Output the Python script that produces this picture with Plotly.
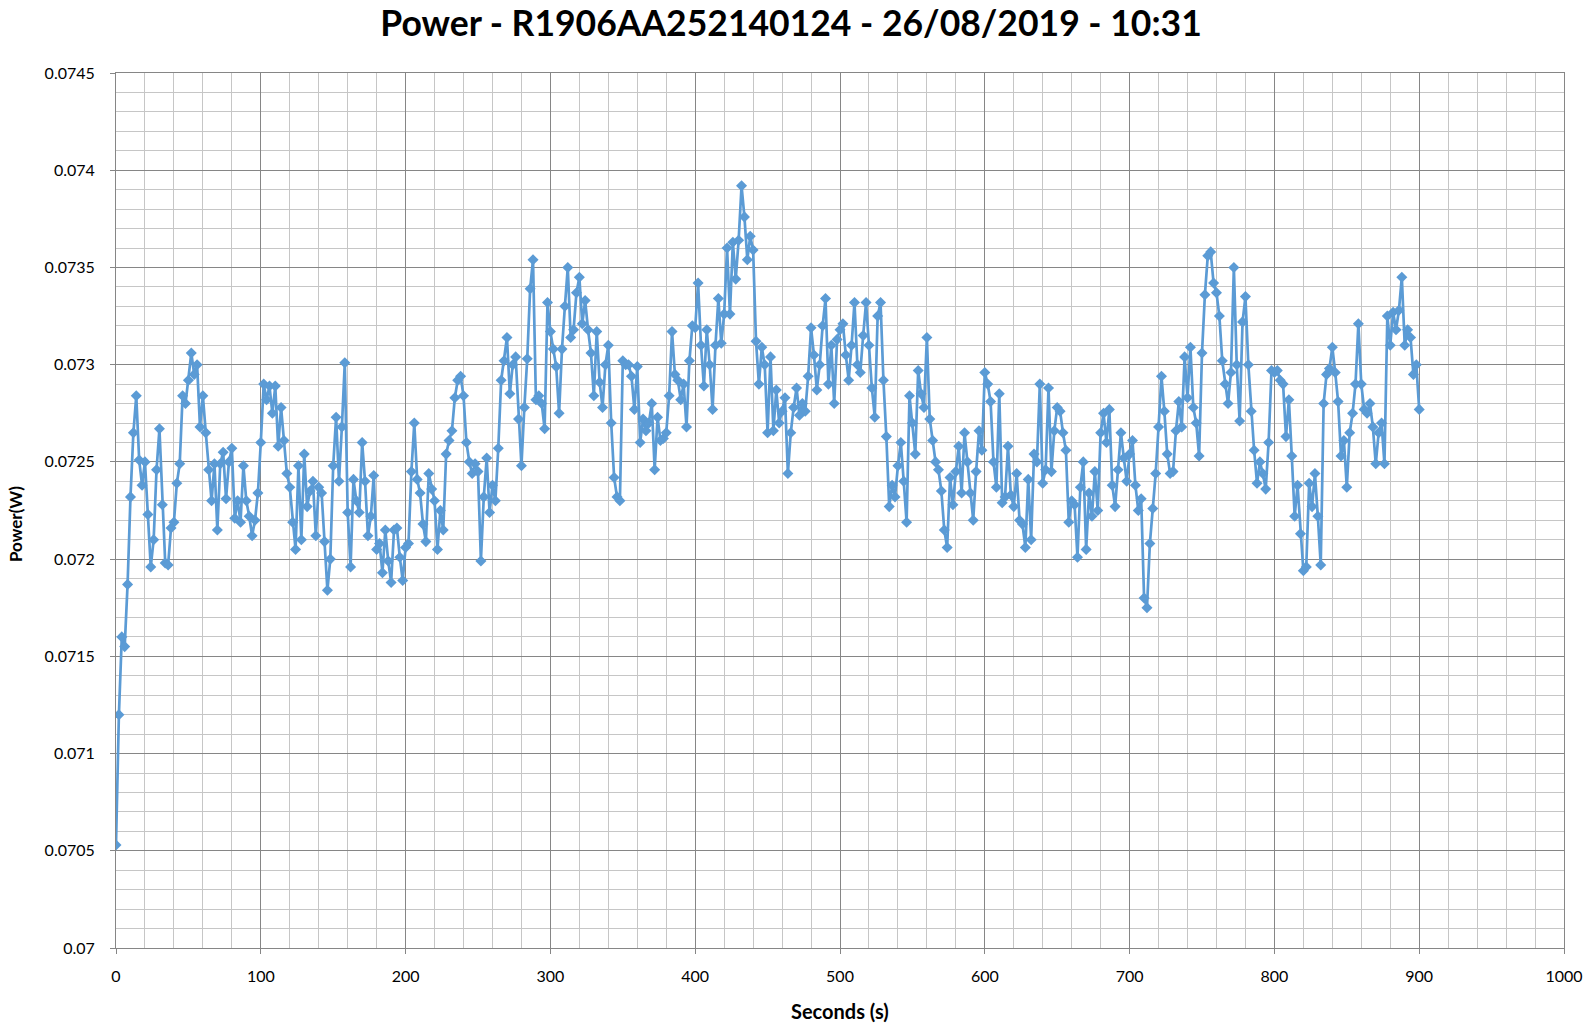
import plotly.graph_objects as go

# ---- data (2 s sampling) ----
seconds = list(range(0, 901, 2))

power_000 = [
    0.07053, 0.07120, 0.07160, 0.07155, 0.07187, 0.07232, 0.07265, 0.07284, 0.07251, 0.07238,
    0.07250, 0.07223, 0.07196, 0.07210, 0.07246, 0.07267, 0.07228, 0.07198, 0.07197, 0.07216,
    0.07219, 0.07239, 0.07249, 0.07284, 0.07280, 0.07292, 0.07306, 0.07295, 0.07300, 0.07268,
    0.07284, 0.07265, 0.07246, 0.07230, 0.07249, 0.07215, 0.07249, 0.07255, 0.07231, 0.07250,
    0.07257, 0.07221, 0.07230, 0.07219, 0.07248, 0.07230, 0.07222, 0.07212, 0.07220, 0.07234,
]
power_100 = [
    0.07260, 0.07290, 0.07282, 0.07289, 0.07275, 0.07289, 0.07258, 0.07278, 0.07261, 0.07244,
    0.07237, 0.07219, 0.07205, 0.07248, 0.07210, 0.07254, 0.07227, 0.07235, 0.07240, 0.07212,
    0.07237, 0.07234, 0.07209, 0.07184, 0.07200, 0.07248, 0.07273, 0.07240, 0.07268, 0.07301,
    0.07224, 0.07196, 0.07241, 0.07230, 0.07224, 0.07260, 0.07240, 0.07212, 0.07222, 0.07243,
    0.07205, 0.07208, 0.07193, 0.07215, 0.07199, 0.07188, 0.07215, 0.07216, 0.07201, 0.07189,
]
power_200 = [
    0.07206, 0.07208, 0.07245, 0.07270, 0.07241, 0.07234, 0.07218, 0.07209, 0.07244, 0.07236,
    0.07230, 0.07205, 0.07225, 0.07215, 0.07254, 0.07261, 0.07266, 0.07283, 0.07292, 0.07294,
    0.07284, 0.07260, 0.07250, 0.07244, 0.07249, 0.07245, 0.07199, 0.07232, 0.07252, 0.07224,
    0.07238, 0.07230, 0.07257, 0.07292, 0.07302, 0.07314, 0.07285, 0.07300, 0.07304, 0.07272,
    0.07248, 0.07278, 0.07303, 0.07339, 0.07354, 0.07282, 0.07284, 0.07280, 0.07267, 0.07332,
]
power_300 = [
    0.07317, 0.07308, 0.07299, 0.07275, 0.07308, 0.07330, 0.07350, 0.07314, 0.07318, 0.07337,
    0.07345, 0.07321, 0.07333, 0.07318, 0.07306, 0.07284, 0.07317, 0.07291, 0.07278, 0.07300,
    0.07310, 0.07270, 0.07242, 0.07232, 0.07230, 0.07302, 0.07300, 0.07300, 0.07294, 0.07277,
    0.07299, 0.07260, 0.07272, 0.07266, 0.07270, 0.07280, 0.07246, 0.07273, 0.07261, 0.07262,
    0.07265, 0.07284, 0.07317, 0.07295, 0.07292, 0.07282, 0.07290, 0.07268, 0.07302, 0.07320,
]
power_400 = [
    0.07319, 0.07342, 0.07310, 0.07289, 0.07318, 0.07300, 0.07277, 0.07310, 0.07334, 0.07311,
    0.07326, 0.07360, 0.07326, 0.07363, 0.07344, 0.07364, 0.07392, 0.07376, 0.07354, 0.07366,
    0.07359, 0.07312, 0.07290, 0.07309, 0.07300, 0.07265, 0.07304, 0.07266, 0.07287, 0.07270,
    0.07276, 0.07283, 0.07244, 0.07265, 0.07278, 0.07288, 0.07274, 0.07280, 0.07276, 0.07294,
    0.07319, 0.07305, 0.07287, 0.07300, 0.07320, 0.07334, 0.07290, 0.07310, 0.07280, 0.07313,
]
power_500 = [
    0.07318, 0.07321, 0.07305, 0.07292, 0.07310, 0.07332, 0.07300, 0.07296, 0.07315, 0.07332,
    0.07310, 0.07288, 0.07273, 0.07325, 0.07332, 0.07292, 0.07263, 0.07227, 0.07238, 0.07232,
    0.07248, 0.07260, 0.07240, 0.07219, 0.07284, 0.07270, 0.07254, 0.07297, 0.07285, 0.07278,
    0.07314, 0.07272, 0.07261, 0.07250, 0.07246, 0.07235, 0.07215, 0.07206, 0.07242, 0.07228,
    0.07245, 0.07258, 0.07234, 0.07265, 0.07250, 0.07234, 0.07220, 0.07245, 0.07266, 0.07256,
]
power_600 = [
    0.07296, 0.07290, 0.07281, 0.07250, 0.07237, 0.07285, 0.07229, 0.07232, 0.07258, 0.07233,
    0.07227, 0.07244, 0.07220, 0.07218, 0.07206, 0.07241, 0.07210, 0.07254, 0.07250, 0.07290,
    0.07239, 0.07246, 0.07288, 0.07245, 0.07266, 0.07278, 0.07276, 0.07265, 0.07256, 0.07219,
    0.07230, 0.07228, 0.07201, 0.07237, 0.07250, 0.07205, 0.07234, 0.07222, 0.07245, 0.07225,
    0.07265, 0.07275, 0.07260, 0.07277, 0.07238, 0.07227, 0.07246, 0.07265, 0.07252, 0.07240,
]
power_700 = [
    0.07254, 0.07261, 0.07238, 0.07225, 0.07231, 0.07180, 0.07175, 0.07208, 0.07226, 0.07244,
    0.07268, 0.07294, 0.07276, 0.07254, 0.07244, 0.07245, 0.07266, 0.07281, 0.07268, 0.07304,
    0.07283, 0.07309, 0.07278, 0.07270, 0.07253, 0.07306, 0.07336, 0.07356, 0.07358, 0.07342,
    0.07337, 0.07325, 0.07302, 0.07290, 0.07280, 0.07296, 0.07350, 0.07300, 0.07271, 0.07322,
    0.07335, 0.07300, 0.07276, 0.07256, 0.07239, 0.07250, 0.07244, 0.07236, 0.07260, 0.07297,
]
power_800 = [
    0.07296, 0.07297, 0.07292, 0.07290, 0.07263, 0.07282, 0.07253, 0.07222, 0.07238, 0.07213,
    0.07194, 0.07196, 0.07239, 0.07227, 0.07244, 0.07222, 0.07197, 0.07280, 0.07295, 0.07298,
    0.07309, 0.07296, 0.07281, 0.07253, 0.07261, 0.07237, 0.07265, 0.07275, 0.07290, 0.07321,
    0.07290, 0.07277, 0.07275, 0.07280, 0.07268, 0.07249, 0.07265, 0.07270, 0.07249, 0.07325,
    0.07310, 0.07327, 0.07318, 0.07328, 0.07345, 0.07310, 0.07318, 0.07314, 0.07295, 0.07300,
    0.07277,
]

power = (power_000 + power_100 + power_200 + power_300 + power_400
         + power_500 + power_600 + power_700 + power_800)

x_tick_vals = [0, 100, 200, 300, 400, 500, 600, 700, 800, 900, 1000]
x_tick_text = ["0", "100", "200", "300", "400", "500", "600", "700", "800", "900", "1000"]
y_tick_vals = [0.07, 0.0705, 0.071, 0.0715, 0.072, 0.0725, 0.073, 0.0735, 0.074, 0.0745]
y_tick_text = ["0.07", "0.0705", "0.071", "0.0715", "0.072", "0.0725", "0.073", "0.0735", "0.074", "0.0745"]

title_text = "Power - R1906AA252140124 - 26/08/2019 - 10:31"
x_title = "Seconds (s)"
y_title = "Power(W)"

FONT = "Lato"
BLUE = "#5B9BD5"
MAJOR = "#868686"
MINOR = "#C6C6C6"

W, H = 1592, 1028
L, R, T, B = 116, 28, 73, 80
PW, PH = W - L - R, H - T - B

fig = go.Figure()
fig.add_trace(go.Scatter(
    x=seconds, y=power, mode="lines+markers",
    line=dict(color=BLUE, width=2.7),
    marker=dict(symbol="diamond", size=8.5, color=BLUE, line=dict(width=0)),
    showlegend=False,
))

fig.update_layout(
    width=W, height=H,
    paper_bgcolor="white", plot_bgcolor="white",
    margin=dict(l=L, r=R, t=T, b=B, autoexpand=False),
    font=dict(family=FONT, color="black", size=16),
    title=dict(text="<b>" + title_text + "</b>", x=791 / W, xanchor="center",
               y=1 - 23.5 / H, yanchor="middle",
               font=dict(family=FONT, size=35.5, color="black")),
    annotations=[
        dict(text="<b>" + x_title + "</b>", xref="paper", yref="paper",
             x=(840 - L) / PW, y=(T + PH - 1011) / PH, xanchor="center", yanchor="middle",
             showarrow=False, font=dict(family=FONT, size=20, color="black")),
        dict(text="<b>" + y_title + "</b>", xref="paper", yref="paper",
             x=(15 - L) / PW, y=(T + PH - 524) / PH, xanchor="center", yanchor="middle",
             textangle=-90,
             showarrow=False, font=dict(family=FONT, size=17, color="black")),
    ],
)

fig.update_xaxes(
    range=[0, 1000], tickvals=x_tick_vals, ticktext=x_tick_text,
    showgrid=True, gridcolor=MAJOR, gridwidth=1,
    minor=dict(dtick=20, tick0=0, showgrid=True, gridcolor=MINOR, gridwidth=1),
    showline=True, linecolor=MAJOR, linewidth=1, mirror=True,
    ticks="outside", ticklen=5, tickcolor=MAJOR, ticklabelstandoff=9,
    ticklabeloverflow="allow",
    zeroline=False, tickfont=dict(size=16, family=FONT),
)
fig.update_yaxes(
    range=[0.07, 0.0745], tickvals=y_tick_vals, ticktext=y_tick_text,
    showgrid=True, gridcolor=MAJOR, gridwidth=1,
    minor=dict(dtick=0.0001, tick0=0.07, showgrid=True, gridcolor=MINOR, gridwidth=1),
    showline=True, linecolor=MAJOR, linewidth=1, mirror=True,
    ticks="outside", ticklen=5, tickcolor=MAJOR, ticklabelstandoff=12,
    ticklabeloverflow="allow",
    zeroline=False, tickfont=dict(size=16, family=FONT),
)

# the page body has an 8px default margin; remove it so the figure fills the window
fig.write_html("out.html", config={"displayModeBar": False},
               post_script="document.body.style.margin='0px';")
